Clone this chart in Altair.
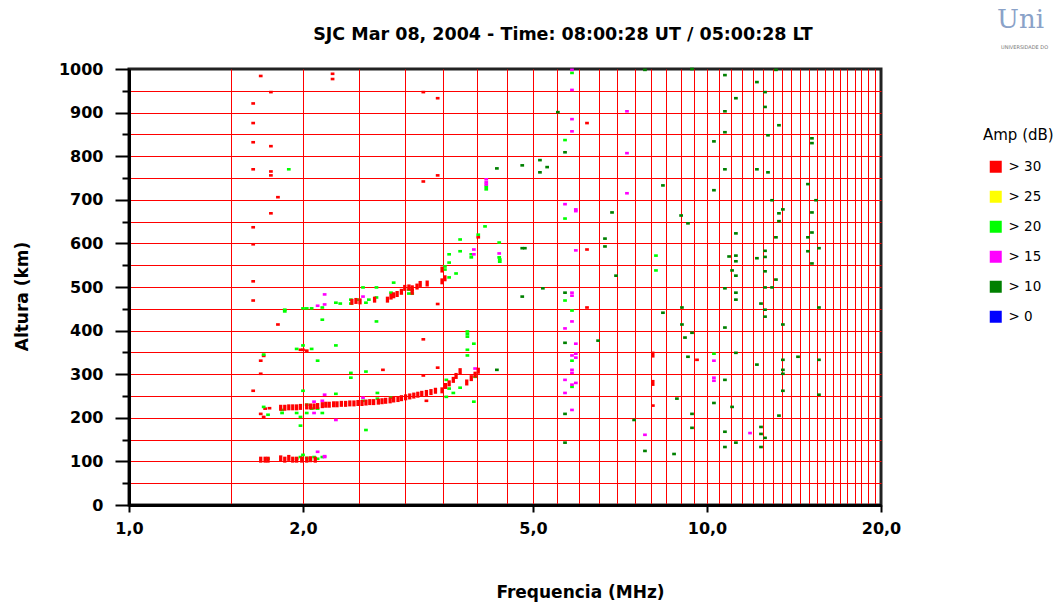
import altair as alt
import pandas as pd

title_text = "SJC Mar 08, 2004 - Time: 08:00:28 UT / 05:00:28 LT"
amp_classes = ["> 30", "> 25", "> 20", "> 15", "> 10", "> 0"]
amp_colors = ["#ff0000", "#ffff00", "#00ff00", "#ff00ff", "#008000", "#0000ff"]
x_label_ticks = [1, 2, 5, 10, 20]

# (frequency MHz, virtual height km)
# strongest echoes (> 30 dB) forming the traces: drawn as taller bars
red_trace = [
    # F trace
    (1.83, 223), (1.86, 223), (1.89, 224), (1.92, 224), (1.95, 224), (1.98, 225),
    (2.03, 226), (2.06, 226), (2.09, 226), (2.12, 227), (2.16, 229), (2.19, 230),
    (2.22, 230), (2.26, 231), (2.29, 231), (2.33, 232), (2.37, 232), (2.41, 233),
    (2.45, 233), (2.49, 234), (2.53, 234), (2.57, 235), (2.61, 236), (2.65, 236),
    (2.70, 237), (2.74, 238), (2.78, 239), (2.83, 240), (2.87, 242), (2.92, 243),
    (2.96, 245), (3.01, 247), (3.06, 249), (3.11, 251), (3.16, 253), (3.21, 255),
    (3.27, 257), (3.33, 259), (3.39, 262),
    (3.48, 263), (3.53, 273), (3.58, 279), (3.64, 287), (3.68, 296), (3.74, 307),
    (3.84, 281), (3.91, 291), (3.97, 299), (4.02, 308),
    # E trace
    (1.69, 104), (1.72, 104), (1.74, 104), (1.83, 107), (1.86, 104), (1.89, 108),
    (1.92, 104), (1.95, 104), (1.99, 104), (2.03, 104), (2.06, 105), (2.10, 104),
    # second hop
    (2.43, 466), (2.47, 468), (2.51, 467), (2.66, 471), (2.80, 471), (2.84, 478),
    (2.87, 481), (2.91, 484), (2.96, 489), (3.00, 498), (3.05, 499), (3.09, 497),
    (3.09, 489), (3.15, 501), (3.19, 507), (3.28, 508), (3.48, 513), (3.52, 520),
    (3.48, 540),
    # isolated strong echoes
    (8.06, 345), (8.06, 280),
]

red_dots = [
    (1.69, 984), (1.76, 947), (1.64, 921), (1.64, 876), (1.64, 832), (1.76, 823),
    (1.64, 770), (1.76, 765), (1.76, 756), (1.81, 706), (1.76, 669), (1.64, 637),
    (1.64, 598), (2.25, 989), (2.25, 977), (3.23, 947), (3.42, 933), (3.23, 742),
    (3.42, 756), (1.64, 513), (1.64, 469), (1.81, 414), (1.69, 331), (1.71, 342),
    (1.69, 301), (1.64, 262), (1.69, 209), (1.71, 202), (1.72, 221), (1.75, 222),
    (3.23, 380), (3.42, 315), (3.23, 297), (2.75, 310), (3.27, 239), (3.42, 461),
    (1.98, 356), (2.00, 356), (2.03, 354), (4.02, 614),
    (6.20, 876), (6.20, 586), (6.20, 453), (8.06, 228), (9.61, 333),
]

lime_dots = [
    (1.71, 225), (1.74, 207), (1.84, 218), (1.84, 211), (1.95, 211), (1.98, 202),
    (1.98, 182), (2.00, 262), (2.03, 230), (2.03, 211), (2.07, 221), (2.12, 221),
    (2.16, 211), (2.28, 255), (2.42, 303), (2.42, 292), (2.12, 331),
    (1.98, 110), (2.00, 115), (2.03, 108), (2.09, 110), (2.12, 106), (2.16, 110),
    (1.95, 106), (1.74, 106), (2.06, 104),
    (2.57, 306), (2.69, 257), (2.69, 244), (2.84, 246), (2.57, 172), (3.85, 356),
    (3.85, 343), (3.95, 370), (3.54, 287), (3.58, 267), (3.64, 257), (3.74, 269),
    (3.54, 248), (3.95, 237), (3.97, 294), (2.54, 239),
    (1.86, 444), (1.86, 448), (2.00, 451), (2.03, 451), (2.07, 451), (2.16, 425),
    (2.16, 453), (2.28, 464), (2.32, 462), (2.42, 471), (2.42, 462), (2.49, 471),
    (2.00, 366), (1.95, 358), (2.07, 358), (2.28, 366), (1.71, 345),
    (2.54, 499), (2.57, 464), (2.60, 471), (2.68, 499), (2.68, 476), (2.84, 487),
    (2.87, 510), (3.05, 485), (3.05, 494), (3.09, 485), (3.52, 540), (3.52, 547),
    (3.58, 575), (3.58, 556), (3.58, 522), (3.68, 531), (3.74, 609), (3.74, 582),
    (3.91, 568), (3.91, 575), (4.02, 620), (4.13, 639), (3.85, 386), (3.85, 392),
    (3.85, 398), (2.68, 421),
    (4.15, 730), (4.15, 724), (4.37, 602), (4.37, 568), (5.68, 837), (5.68, 657),
    (5.84, 991), (1.89, 770),
    (5.68, 469), (5.84, 446), (5.84, 331), (5.84, 271), (8.16, 572), (8.16, 538),
    (10.28, 347), (4.38, 563), (4.38, 558),
]

magenta_dots = [
    (2.18, 253), (2.09, 237), (2.16, 239), (2.09, 211), (2.28, 195), (2.12, 122),
    (2.18, 110), (2.18, 112), (2.54, 246), (3.97, 313), (2.18, 483), (2.12, 457),
    (2.18, 460), (2.54, 478), (3.95, 586), (3.95, 575), (4.15, 747), (4.15, 740),
    (4.15, 735), (4.37, 577),
    (5.84, 998), (5.84, 952), (5.84, 885), (5.84, 857), (5.68, 690), (5.93, 674),
    (5.93, 678), (5.93, 584), (7.27, 903), (7.27, 807), (7.27, 715),
    (5.84, 487), (5.84, 480), (5.84, 421), (5.68, 405), (5.93, 370), (5.84, 343),
    (5.93, 347), (5.93, 338), (5.84, 310), (5.84, 303), (5.68, 287), (5.93, 280),
    (5.84, 276), (5.68, 257), (5.84, 218), (7.81, 161), (10.28, 331), (10.28, 292),
    (10.28, 285), (11.87, 165),
]

dkgreen_dots = [
    (4.33, 772), (4.79, 779), (5.14, 791), (5.29, 775), (5.14, 763), (5.68, 809),
    (5.52, 901), (6.85, 671), (6.66, 611), (6.66, 593), (4.79, 589), (4.84, 589),
    (7.81, 998), (9.42, 1000), (10.74, 986), (12.20, 970), (11.22, 933), (10.74, 903),
    (12.60, 947), (12.60, 913), (13.16, 998), (13.32, 871), (12.75, 848), (15.19, 841),
    (15.19, 830), (10.74, 855), (10.28, 834), (10.74, 770), (12.20, 770), (12.75, 763),
    (8.39, 733), (10.28, 722), (14.95, 736), (12.96, 699), (15.44, 699), (13.53, 678),
    (13.32, 669), (15.19, 671), (13.32, 651), (15.19, 625), (14.95, 614), (13.16, 614),
    (11.22, 623), (9.27, 646), (9.02, 664), (14.95, 582), (15.62, 589), (11.22, 572),
    (10.92, 570), (12.20, 566), (12.60, 583), (12.60, 569), (11.22, 559), (15.19, 554),
    (11.05, 538), (11.22, 526), (13.16, 517), (6.96, 526), (5.20, 497), (4.79, 478),
    (5.68, 487), (10.74, 497), (11.22, 487), (11.22, 471), (12.96, 499), (12.40, 462),
    (15.62, 453), (9.05, 453), (8.39, 441), (9.05, 414), (13.53, 414), (9.42, 395),
    (9.16, 384), (10.74, 407), (6.48, 377), (5.68, 372), (11.22, 349), (9.27, 340),
    (12.20, 322), (13.53, 333), (13.53, 310), (13.53, 301), (14.37, 340), (15.62, 333),
    (10.74, 287), (13.53, 262), (15.62, 253), (8.87, 244), (10.28, 234), (11.05, 225),
    (9.42, 209), (7.48, 195), (9.42, 177), (13.32, 205), (12.40, 179), (12.40, 163),
    (10.74, 168), (11.22, 143), (10.74, 133), (12.40, 133), (8.77, 117), (7.81, 124),
    (5.68, 143), (5.68, 209), (4.33, 310), (12.60, 536), (12.60, 499), (12.60, 448),
    (12.60, 432), (12.60, 154),
]

rows = []
for f, h in red_trace:
    rows.append({"f": f, "h": h, "amp": "> 30", "kind": "bar"})
for cls, pts in [("> 30", red_dots), ("> 20", lime_dots),
                 ("> 15", magenta_dots), ("> 10", dkgreen_dots)]:
    for f, h in pts:
        rows.append({"f": f, "h": h, "amp": cls, "kind": "dot"})
df = pd.DataFrame(rows)

FONT = "DejaVu Sans"
x_values = [1.0] + [v / 2 for v in range(3, 40)] + [20.0]
y_values = list(range(0, 1001, 50))
major_x = "(datum.value == 1 || datum.value == 2 || datum.value == 5 || datum.value == 10 || datum.value == 20)"

x_axis = alt.Axis(
    values=x_values,
    labelExpr=f"{major_x} ? replace(format(datum.value, '.1f'), '.', ',') : ''",
    tickSize={"condition": {"test": major_x, "value": 7}, "value": 0},
    tickWidth=2, tickColor="black",
    grid=True, gridColor="#ff0000", gridWidth=1,
    gridOpacity={"condition": {"test": "datum.value == 1 || datum.value == 20", "value": 0}, "value": 1},
    domainColor="black", domainWidth=3,
    labelFont=FONT, labelFontWeight="bold", labelFontSize=16, labelColor="black",
    labelPadding=8, labelOverlap=False, labelBound=False, labelFlush=False,
    title="Frequencia (MHz)", titleFont=FONT, titleFontWeight="bold", titleFontSize=17,
    titleColor="black", titleX=451, titleY=87, titleAlign="center", titleBaseline="middle",
)
y_axis = alt.Axis(
    values=y_values,
    labelExpr="datum.value % 100 === 0 ? format(datum.value, 'd') : ''",
    tickSize={"condition": {"test": "datum.value % 100 === 0", "value": 14}, "value": 7},
    tickWidth=2, tickColor="black",
    grid=True, gridColor="#ff0000", gridWidth=1,
    gridOpacity={"condition": {"test": "datum.value === 0 || datum.value === 1000", "value": 0}, "value": 1},
    domainColor="black", domainWidth=3,
    labelFont=FONT, labelFontWeight="bold", labelFontSize=16, labelColor="black",
    labelPadding=12, labelOverlap=False, labelBound=False, labelFlush=False,
    title="Altura (km)", titleFont=FONT, titleFontWeight="bold", titleFontSize=17,
    titleColor="black", titleX=-107, titleY=227, titleAngle=-90,
    titleAlign="center", titleBaseline="middle",
)

x_enc = alt.X("f:Q", scale=alt.Scale(type="log", domain=[1, 20], nice=False), axis=x_axis)
y_enc = alt.Y("h:Q", scale=alt.Scale(domain=[0, 1000], nice=False), axis=y_axis)
color_enc = alt.Color(
    "amp:N",
    scale=alt.Scale(domain=amp_classes, range=amp_colors),
    legend=alt.Legend(
        title="Amp (dB)", orient="none", legendX=854, legendY=59, padding=0,
        titleFont=FONT, titleFontSize=15, titleFontWeight="normal", titleColor="black",
        titlePadding=17,
        labelFont=FONT, labelFontSize=13.5, labelColor="black",
        symbolType="square", symbolSize=144, symbolStrokeWidth=0, symbolOpacity=1,
        symbolOffset=6, labelOffset=6, rowPadding=15,
    ),
)

DOT = "M-1,-0.7H1V0.7H-1Z"
BAR = "M-0.55,-1H0.55V1H-0.55Z"

base = alt.Chart(df)
dots = base.transform_filter("datum.kind == 'dot'").mark_point(
    shape=DOT, size=14, filled=True, opacity=1, strokeWidth=0
).encode(x=x_enc, y=y_enc, color=color_enc)
bars = base.transform_filter("datum.kind == 'bar'").mark_point(
    shape=BAR, size=36, filled=True, opacity=1, strokeWidth=0
).encode(x=x_enc, y=y_enc, color=color_enc)

title_layer = alt.Chart(pd.DataFrame({"t": [title_text]})).mark_text(
    font=FONT, fontWeight="bold", fontSize=17.5, align="center", baseline="middle", color="black"
).encode(text="t:N", x=alt.value(434), y=alt.value(-34))

logo_main = alt.Chart(pd.DataFrame({"t": ["Uni"]})).mark_text(
    font="DejaVu Serif", fontSize=26, align="left", baseline="middle", color="#8aa2c8"
).encode(text="t:N", x=alt.value(868), y=alt.value(-49))
logo_sub = alt.Chart(pd.DataFrame({"t": ["UNIVERSIDADE DO"]})).mark_text(
    font=FONT, fontSize=5, align="left", baseline="middle", color="#777777"
).encode(text="t:N", x=alt.value(872), y=alt.value(-22))

chart = alt.layer(dots, bars, title_layer, logo_main, logo_sub).properties(
    width=752, height=436,
    autosize=alt.AutoSizeParams(type="none"),
    padding={"left": 129, "top": 69, "right": 178, "bottom": 98},
    background="white",
).configure_view(stroke="#222222", strokeWidth=3)

chart.save("out.html", embed_options={"renderer": "svg", "actions": False})
